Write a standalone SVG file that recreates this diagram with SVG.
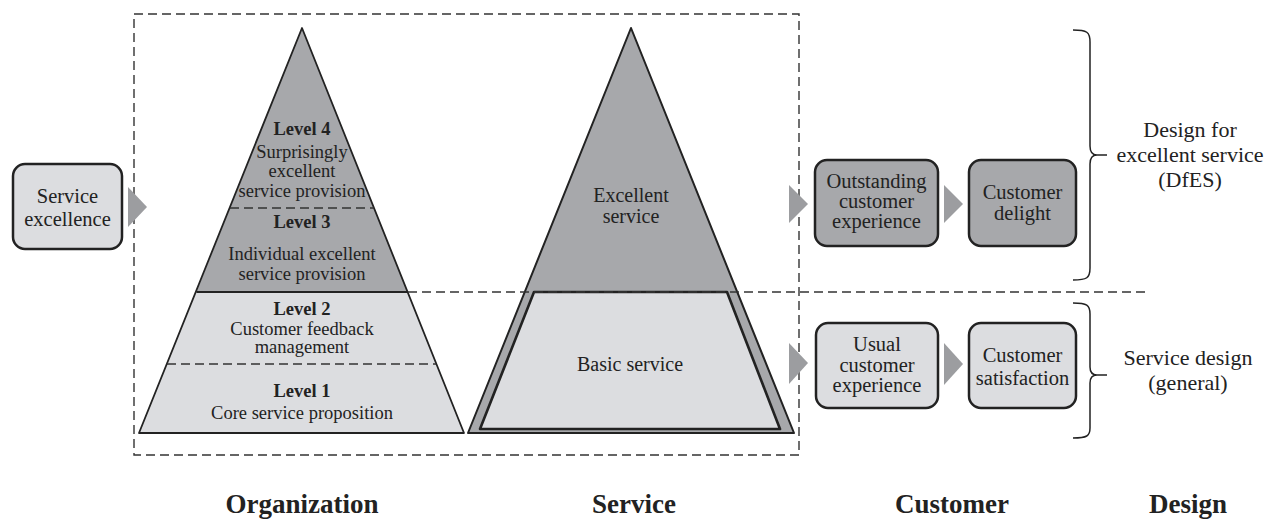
<svg xmlns="http://www.w3.org/2000/svg" width="1278" height="519" viewBox="0 0 1278 519">
  <style>
    .t { font-family: "Liberation Serif", serif; fill: #222; text-anchor: middle; }
    .lvl { font-size: 18.5px; }
    .lvlb { font-size: 18.5px; font-weight: bold; }
    .box { font-size: 20.5px; }
    .pyr { font-size: 20px; }
    .des { font-size: 22px; }
    .col { font-size: 27px; font-weight: bold; }
    .node { stroke: #222; stroke-width: 2.5; }
    .dark { fill: #a7a8ab; }
    .light { fill: #dcdde0; }
    .arrow { fill: #9c9da0; stroke: none; }
    .dash { fill: none; stroke: #333; stroke-width: 1.4; stroke-dasharray: 9 5; }
    .brace { fill: none; stroke: #222; stroke-width: 1.5; }
  </style>

  <!-- outer frame -->
  <rect class="dash" x="134" y="14" width="665" height="441"/>

  <!-- Service excellence input -->
  <g id="service-excellence">
    <rect class="node light" x="13" y="164" width="109" height="85" rx="12"/>
    <text class="t box" x="67.5" y="203">Service</text>
    <text class="t box" x="67.5" y="226">excellence</text>
  </g>

  <!-- Organization pyramid -->
  <g id="organization-pyramid">
    <polygon class="dark" points="302,28 407.6,292 196.4,292"/>
    <polygon class="light" points="196.4,292 407.6,292 464,433 139,433"/>
    <polygon points="302,28 464,433 139,433" fill="none" stroke="#222" stroke-width="1.8" stroke-linejoin="round"/>
    <line x1="196.4" y1="292" x2="407.6" y2="292" stroke="#222" stroke-width="1.8"/>
    <line class="dash" x1="230" y1="208" x2="374" y2="208"/>
    <line class="dash" x1="167" y1="364" x2="436" y2="364"/>
    <g id="level-4">
      <text class="t lvlb" x="302" y="135">Level 4</text>
      <text class="t lvl" x="302" y="158">Surprisingly</text>
      <text class="t lvl" x="302" y="177">excellent</text>
      <text class="t lvl" x="302" y="197">service provision</text>
    </g>
    <g id="level-3">
      <text class="t lvlb" x="302" y="228">Level 3</text>
      <text class="t lvl" x="302" y="260">Individual excellent</text>
      <text class="t lvl" x="302" y="280">service provision</text>
    </g>
    <g id="level-2">
      <text class="t lvlb" x="302" y="315">Level 2</text>
      <text class="t lvl" x="302" y="335">Customer feedback</text>
      <text class="t lvl" x="302" y="353">management</text>
    </g>
    <g id="level-1">
      <text class="t lvlb" x="302" y="397">Level 1</text>
      <text class="t lvl" x="302" y="419">Core service proposition</text>
    </g>
  </g>

  <!-- Service pyramid -->
  <g id="service-pyramid">
    <polygon class="dark" points="631,28 794,433 468,433" stroke="#222" stroke-width="2" stroke-linejoin="round"/>
    <polygon class="light" points="534,292 727,292 780,429 480,429" stroke="#222" stroke-width="2.6" stroke-linejoin="round"/>
    <text class="t pyr" x="631" y="202">Excellent</text>
    <text class="t pyr" x="631" y="223">service</text>
    <text class="t pyr" x="630" y="371">Basic service</text>
  </g>

  <!-- separator between excellent and basic level -->
  <line class="dash" x1="408" y1="292" x2="1148" y2="292"/>

  <!-- flow arrows -->
  <g id="connectors">
    <polygon class="arrow" points="128,187 147,207 128,227"/>
    <polygon class="arrow" points="789,185 808,204 789,223"/>
    <polygon class="arrow" points="789,343 808,363 789,384"/>
    <polygon class="arrow" points="944,185 963,204 944,223"/>
    <polygon class="arrow" points="944,343 963,364 944,385"/>
  </g>

  <!-- Customer column -->
  <g id="outstanding-experience">
    <rect class="node dark" x="815" y="160" width="123" height="86" rx="12"/>
    <text class="t box" x="876.5" y="188">Outstanding</text>
    <text class="t box" x="876.5" y="208">customer</text>
    <text class="t box" x="876.5" y="228">experience</text>
  </g>
  <g id="customer-delight">
    <rect class="node dark" x="969" y="160" width="107" height="86" rx="12"/>
    <text class="t box" x="1022.5" y="199">Customer</text>
    <text class="t box" x="1022.5" y="220">delight</text>
  </g>
  <g id="usual-experience">
    <rect class="node light" x="816" y="323" width="122" height="85" rx="12"/>
    <text class="t box" x="877" y="351">Usual</text>
    <text class="t box" x="877" y="372">customer</text>
    <text class="t box" x="877" y="392">experience</text>
  </g>
  <g id="customer-satisfaction">
    <rect class="node light" x="969" y="323" width="107" height="85" rx="12"/>
    <text class="t box" x="1022.5" y="362">Customer</text>
    <text class="t box" x="1022.5" y="385">satisfaction</text>
  </g>

  <!-- Design column braces -->
  <g id="dfes">
    <path class="brace" d="M1073,30 C1087,30 1090,32 1090,42 L1090,146 C1090,152 1092,155 1097,155 L1107,155 M1097,155 C1092,155 1090,158 1090,164 L1090,268 C1090,278 1087,280 1073,280"/>
    <text class="t des" x="1190" y="137">Design for</text>
    <text class="t des" x="1190" y="162">excellent service</text>
    <text class="t des" x="1190" y="187">(DfES)</text>
  </g>
  <g id="service-design">
    <path class="brace" d="M1073,303 C1087,303 1090,305 1090,314 L1090,367 C1090,372 1092,375 1097,375 L1107,375 M1097,375 C1092,375 1090,378 1090,383 L1090,428 C1090,436 1087,438 1073,438"/>
    <text class="t des" x="1188" y="365">Service design</text>
    <text class="t des" x="1188" y="390">(general)</text>
  </g>

  <!-- column headings -->
  <g id="headings">
    <text class="t col" x="302" y="513">Organization</text>
    <text class="t col" x="634" y="513">Service</text>
    <text class="t col" x="952" y="513">Customer</text>
    <text class="t col" x="1188" y="513">Design</text>
  </g>
</svg>
